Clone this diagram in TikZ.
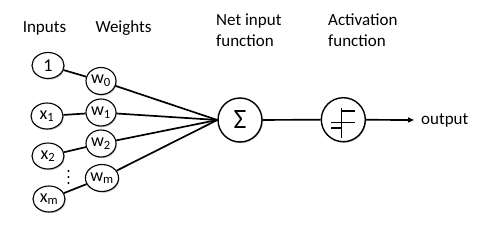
\documentclass[tikz,border=0pt]{standalone}
\usepackage{fontspec}
\setmainfont{Carlito}
\usetikzlibrary{shapes.geometric,arrows.meta,shadows}
\begin{document}
\begin{tikzpicture}[x=1pt,y=-1pt,
  lbl/.style={font=\fontsize{17}{21}\selectfont, inner sep=0pt},
  shd/.style={drop shadow={shadow xshift=0.8pt, shadow yshift=-1.2pt, opacity=0.25, fill=black}},
  inp/.style={draw, fill=white, line width=1.1pt, ellipse, minimum width=32pt, minimum height=26pt, inner sep=0pt, font=\fontsize{18}{19}\selectfont, shd},
  wgt/.style={draw, fill=white, line width=1.1pt, ellipse, minimum width=30pt, minimum height=27pt, inner sep=0pt, font=\fontsize{18}{19}\selectfont, shd},
  big/.style={draw, fill=white, line width=1.4pt, circle, minimum size=44pt, inner sep=0pt, shd},
  conn/.style={line width=1.7pt},
]
\useasboundingbox (0,0) rectangle (492,235);
% headers
\node[lbl] (hin) at (44.5,28) {Inputs};
\node[lbl] (hw) at (123.5,28) {Weights};
\node[lbl, align=left, anchor=north west] (hnet) at (216,14) {Net input\\function};
\node[lbl, align=left, anchor=north west] (hact) at (328,14) {Activation\\function};
% inputs
\node[inp] (i0) at (48,65.5) {1};
\node[inp] (i1) at (47,116) {x\textsubscript{1}};
\node[inp] (i2) at (48,156) {x\textsubscript{2}};
\node[inp] (im) at (49,199) {x\textsubscript{m}};
% weights
\node[wgt] (w0) at (101,81) {w\textsubscript{0}};
\node[wgt] (w1) at (101,112.5) {w\textsubscript{1}};
\node[wgt] (w2) at (101,143.5) {w\textsubscript{2}};
\node[wgt] (wm) at (102,178) {w\textsubscript{m}};
% dots
\foreach \yy/\nm in {171/d1,177/d2,183/d3}
  \fill (68.5,\yy) circle (1.1pt) coordinate (\nm);
% sum and activation
\node[big, font=\fontsize{28}{30}\selectfont] (sum) at (240,120) {Σ};
\node[big] (act) at (343.3,119.7) {};
\coordinate (outp) at (414,120);
\node[lbl, anchor=west] (out) at (421,120) {output};
% step symbol
\begin{scope}[line width=1.1pt]
\draw (341.7,107.7) -- (341.7,138);
\draw (341.7,111) -- (355,111);
\draw (331,122.3) -- (355,122.3);
\draw (331,128) -- (341.7,128);
\end{scope}
% connectors
\draw[conn] (i0) -- (w0);
\draw[conn] (i1) -- (w1);
\draw[conn] (i2) -- (w2);
\draw[conn] (im) -- (wm);
\foreach \w in {w0,w1,w2,wm}
  \draw[conn] (\w) -- (sum.west);
\draw[conn] (sum) -- (act);
\draw[conn, -{Triangle[length=6pt,width=5pt]}] (act) -- (outp);
\end{tikzpicture}
\end{document}
